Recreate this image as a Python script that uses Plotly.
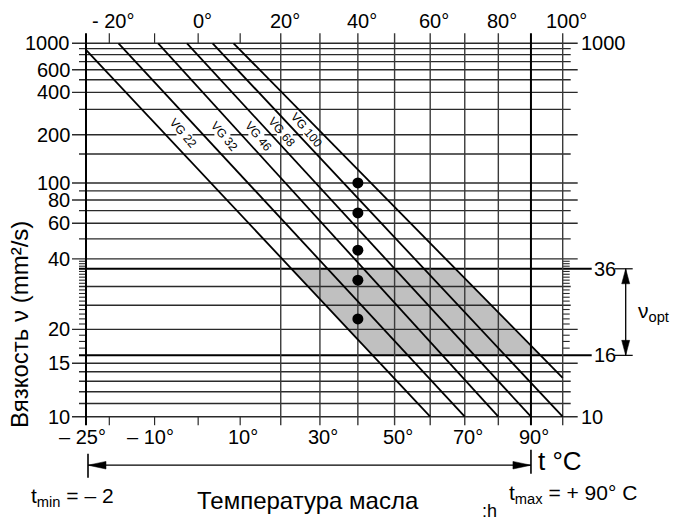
import math
import plotly.graph_objects as go

# ---------------- data ----------------
nu_lines = [1000, 900, 800, 700, 600, 500, 400, 300, 200, 150, 100, 90, 80, 70, 60,
            50, 40, 30, 25, 20, 15, 14, 13, 12, 11, 10]
nu_left_labels = [1000, 600, 400, 200, 100, 80, 60, 40, 20, 15, 10]
nu_minor_ticks = [39, 38, 37, 35, 34, 33, 32, 31, 29, 28, 27, 26, 24, 23, 22, 21, 19, 18, 17]
nu_opt = [16, 36]
nu_right_labels = [1000, 36, 16, 10]

t_grid_full = [20, 30, 40, 50, 60, 70, 80, 90, 100]
t_ticks_short = [-20, -10, 0, 10]
t_top_vals = [-20, 0, 20, 40, 60, 80, 100]
t_top_text = ["- 20°", "0°", "20°", "40°", "60°", "80°", "100°"]
t_bot_vals = [-25, -10, 10, 30, 50, 70, 90]
t_bot_text = ["– 25°", "– 10°", "10°", "30°", "50°", "70°", "90°"]

vg_names = ["VG 22", "VG 32", "VG 46", "VG 68", "VG 100", ""]
vg_t_at_1000 = [-26.3, -18.0, -9.2, -2.6, 3.4, 8.4]
vg_t_at_10 = [60, 70, 80, 90, 100, 112.4]
vg_label_nu = [205, 195, 195, 210, 215]

dot_t = [40, 40, 40, 40, 40]
dot_nu = [100, 68, 44, 32, 22]

t_lo, t_hi = -25, 100
nu_lo, nu_hi = 10, 1000
t_min, t_max = -25, 90

# ---------------- scales (Ubbelohde-type chart) ----------------
def X(t):
    return math.log10(t + 273.15)

def Y(nu):
    return math.log10(math.log10(nu + 0.4))

W, H = 674, 522
PX_L, PX_R, PY_T, PY_B = 86, 562.7, 43.3, 416.7
kx = (PX_R - PX_L) / (X(t_hi) - X(t_lo))
ky = (PY_B - PY_T) / (Y(nu_hi) - Y(nu_lo))
x_range = [X(t_lo) - PX_L / kx, X(t_hi) + (W - PX_R) / kx]
y_range = [Y(nu_lo) - (H - PY_B) / ky, Y(nu_hi) + PY_T / ky]

def dx(p):
    return p / kx

def dy(p):
    return p / ky

XL, XR = X(t_lo), X(t_hi)
YT, YB = Y(nu_hi), Y(nu_lo)

fig = go.Figure()

def seg_trace(segs, color, width):
    xs, ys = [], []
    for (x0, y0, x1, y1) in segs:
        xs += [x0, x1, None]
        ys += [y0, y1, None]
    fig.add_trace(go.Scatter(x=xs, y=ys, mode="lines", line=dict(color=color, width=width),
                             hoverinfo="skip", showlegend=False))

def x_at_y(i, yv):
    xa, ya = X(vg_t_at_1000[i]), YT
    xb, yb = X(vg_t_at_10[i]), YB
    return xa + (yv - ya) * (xb - xa) / (yb - ya)

# ---- gray optimum region (between first and last line, nu 16..36) ----
y16, y36 = Y(nu_opt[0]), Y(nu_opt[1])
px = [x_at_y(0, y36), x_at_y(5, y36), x_at_y(5, y16), x_at_y(0, y16), x_at_y(0, y36)]
py = [y36, y36, y16, y16, y36]
fig.add_trace(go.Scatter(x=px, y=py, mode="lines", fill="toself", fillcolor="#c0c0c0",
                         line=dict(width=0, color="#c0c0c0"), hoverinfo="skip", showlegend=False))

# ---- horizontal grid lines ----
segs = []
for nu in nu_lines:
    lab = nu in nu_left_labels
    x0 = XL - dx(14 if lab else 7)
    x1 = XR + dx(15 if lab else 8)
    segs.append((x0, Y(nu), x1, Y(nu)))
seg_trace(segs, "#2a2a2a", 1.4)
segs = [(XL - dx(7), Y(nu), XR + dx(29), Y(nu)) for nu in nu_opt]
seg_trace(segs, "#000000", 2.0)
# minor ticks
segs = []
for nu in nu_minor_ticks:
    segs.append((XL - dx(7), Y(nu), XL, Y(nu)))
    segs.append((XR, Y(nu), XR + dx(7), Y(nu)))
seg_trace(segs, "#2a2a2a", 1.1)

# ---- vertical grid lines ----
ytop_ext = YT + dy(10)
ybot_ext = YB - dy(8.5)
segs = [(X(t), ytop_ext, X(t), ybot_ext) for t in t_grid_full if t != t_max]
seg_trace(segs, "#3a3a3a", 1.4)
segs = [(X(t_max), ytop_ext, X(t_max), ybot_ext), (XL, ytop_ext, XL, ybot_ext)]
seg_trace(segs, "#000000", 2.0)
segs = []
for t in t_ticks_short:
    segs.append((X(t), YT, X(t), ytop_ext))
    segs.append((X(t), YB, X(t), ybot_ext))
seg_trace(segs, "#2a2a2a", 1.2)

# ---- VG lines (clipped to chart box) ----
def clip(x0, y0, x1, y1):
    ddx, ddy = x1 - x0, y1 - y0
    a, b = 0.0, 1.0
    for p, q in ((-ddx, x0 - XL), (ddx, XR - x0), (-ddy, y0 - YB), (ddy, YT - y0)):
        if p == 0:
            if q < 0:
                return None
            continue
        r = q / p
        if p < 0:
            a = max(a, r)
        else:
            b = min(b, r)
    if a > b:
        return None
    return (x0 + a * ddx, y0 + a * ddy, x0 + b * ddx, y0 + b * ddy)

# white gaps in the 200 grid line behind the VG labels
gap_segs = []
for i, name in enumerate(vg_names):
    if name:
        xm = (x_at_y(i, Y(200)) + x_at_y(i + 1, Y(200))) / 2
        gap_segs.append((xm - dx(8), Y(200), xm + dx(8), Y(200)))
seg_trace(gap_segs, "#ffffff", 3)

segs = []
for i in range(len(vg_names)):
    c = clip(X(vg_t_at_1000[i]), YT, X(vg_t_at_10[i]), YB)
    if c:
        segs.append(c)
seg_trace(segs, "#000000", 1.8)

# ---- dots ----
fig.add_trace(go.Scatter(x=[X(t) for t in dot_t], y=[Y(n) for n in dot_nu], mode="markers",
                         marker=dict(size=11, color="black"), hoverinfo="skip", showlegend=False))

# ---- arrow heads (filled triangles) ----
def tri(xtip, ytip, direction, length, half):
    if direction == "left":
        return [xtip, xtip + dx(length), xtip + dx(length), xtip], [ytip, ytip + dy(half), ytip - dy(half), ytip]
    if direction == "right":
        return [xtip, xtip - dx(length), xtip - dx(length), xtip], [ytip, ytip + dy(half), ytip - dy(half), ytip]
    if direction == "up":
        return [xtip, xtip - dx(half), xtip + dx(half), xtip], [ytip, ytip - dy(length), ytip - dy(length), ytip]
    return [xtip, xtip - dx(half), xtip + dx(half), xtip], [ytip, ytip + dy(length), ytip + dy(length), ytip]

def add_tri(xs, ys):
    fig.add_trace(go.Scatter(x=xs, y=ys, mode="lines", fill="toself", fillcolor="black",
                             line=dict(width=0.5, color="black"), hoverinfo="skip", showlegend=False))

# temperature range arrow
ya = YB - dy(48.5)
xa0, xa1 = XL + dx(2), X(t_max)
seg_trace([(xa0, ya, xa1, ya)], "#000000", 1.3)
seg_trace([(xa0, YB - dy(37), xa0, YB - dy(61)), (xa1, YB - dy(33), xa1, YB - dy(57))], "#000000", 1.6)
add_tri(*tri(xa0, ya, "left", 18, 3.8))
add_tri(*tri(xa1, ya, "right", 18, 3.8))

# nu_opt arrow
xo = XR + dx(63)
seg_trace([(XR + dx(52), y36, XR + dx(70), y36), (XR + dx(52), y16, XR + dx(70), y16)], "#000000", 1.2)
seg_trace([(xo, y36, xo, y16)], "#000000", 1.3)
add_tri(*tri(xo, y36, "up", 15, 4))
add_tri(*tri(xo, y16, "down", 15, 4))

# ---------------- text ----------------
FONT = "Liberation Sans, Arial, sans-serif"
ann = []
def A(x, y, text, size=20, xanchor="center", yanchor="middle", xshift=0, yshift=0, angle=0,
      xref="x", yref="y"):
    ann.append(dict(x=x, y=y, xref=xref, yref=yref, text=text, showarrow=False,
                    xanchor=xanchor, yanchor=yanchor, xshift=xshift, yshift=yshift,
                    textangle=angle, font=dict(family=FONT, size=size, color="black")))

for nu in nu_left_labels:
    A(XL, Y(nu), str(nu), xanchor="right", xshift=-14)
for nu in nu_right_labels:
    sh = 29 if nu in nu_opt else 16
    A(XR, Y(nu), str(nu), xanchor="left", xshift=sh)
for t, s in zip(t_top_vals, t_top_text):
    A(X(t), YT, s, xshift=4, yshift=22)
for t, s in zip(t_bot_vals, t_bot_text):
    A(X(t), YB, s, xshift=(-4 if t < 0 else 3), yshift=-20)

# VG labels, centred between neighbouring lines
for i, name in enumerate(vg_names):
    if not name:
        continue
    yl = Y(vg_label_nu[i])
    xm = (x_at_y(i, yl) + x_at_y(i + 1, yl)) / 2
    ang = math.degrees(math.atan(((YT - YB) * ky) / ((X(vg_t_at_10[i]) - X(vg_t_at_1000[i])) * kx)))
    A(xm, yl, name, size=12, angle=ang + 3)

A(xo, (y16 + y36) / 2, "ν<sub>opt</sub>", size=21, xanchor="left", xshift=10)
A(X(t_max), YB, "t °C", size=26, xanchor="left", xshift=5, yshift=-44)
A(XL, YB, "t<sub>min</sub> = – 2", size=21, xanchor="left", xshift=-57, yshift=-80)
A((XL + X(t_max)) / 2, YB, "Температура масла", size=24, yshift=-84)
A(X(t_max), YB, "t<sub>max</sub> = + 90° C", size=21, xanchor="left", xshift=-24, yshift=-77)
A(X(t_max), YB, ":h", size=18, xanchor="left", xshift=-51, yshift=-94)
A(19 / W, 1 - 325 / H, "Вязкость ν (mm²/s)", size=24, angle=-90, xref="paper", yref="paper")

fig.update_layout(
    width=W, height=H, autosize=False,
    margin=dict(l=0, r=0, t=0, b=0, pad=0),
    paper_bgcolor="white", plot_bgcolor="white",
    xaxis=dict(range=x_range, visible=False, showgrid=False, zeroline=False, fixedrange=True),
    yaxis=dict(range=y_range, visible=False, showgrid=False, zeroline=False, fixedrange=True),
    annotations=ann,
    showlegend=False,
)

fig.write_html("out.html", config={"displayModeBar": False},
               post_script="document.body.style.margin='0';document.body.style.overflow='hidden';")
